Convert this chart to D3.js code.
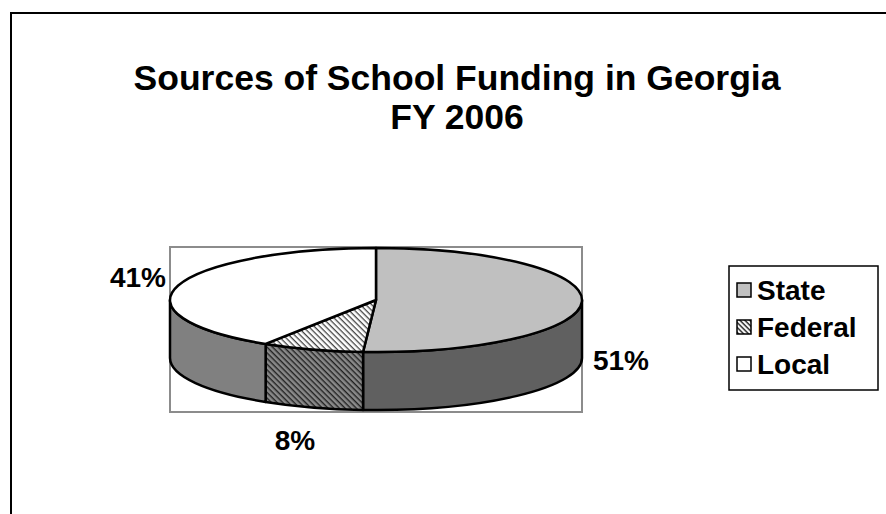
<!DOCTYPE html>
<html>
<head>
<meta charset="utf-8">
<script src="https://cdn.jsdelivr.net/npm/d3@7"></script>
<style>
  html, body { margin: 0; padding: 0; background: #fff; }
  svg { display: block; }
  text { font-family: Arial, "Liberation Sans", sans-serif; font-weight: bold; fill: #000; }
</style>
</head>
<body>
<svg id="chart" width="886" height="514"></svg>
<script>
// Funding sources, shares in percent
const categories = ["State", "Federal", "Local"];
const shares = [51, 8, 41];
const labels = ["51%", "8%", "41%"];
const titleLines = ["Sources of School Funding in Georgia", "FY 2006"];

const topFills = ["#c0c0c0", "url(#hatchTop)", "#ffffff"];
const sideFills = ["#606060", "url(#hatchSide)", "#808080"];
const legendFills = ["#c0c0c0", "url(#hatchLegend)", "#ffffff"];

const svg = d3.select("#chart");
const W = 886, H = 514;

// patterns for the Federal slice
const defs = svg.append("defs");
function hatch(id, bg, fg, gap, w) {
  const p = defs.append("pattern")
    .attr("id", id).attr("patternUnits", "userSpaceOnUse")
    .attr("width", gap).attr("height", gap)
    .attr("patternTransform", "rotate(45)");
  p.append("rect").attr("width", gap).attr("height", gap).attr("fill", bg);
  p.append("rect").attr("width", gap).attr("height", w).attr("fill", fg);
}
hatch("hatchTop", "#ffffff", "#444444", 4, 1.3);
hatch("hatchSide", "#8a8a8a", "#222222", 4, 1.4);
hatch("hatchLegend", "#ffffff", "#333333", 3.5, 1.5);

// chart frame (left and top edges)
svg.append("path")
  .attr("d", `M11,${H + 5} L11,13 L${W + 5},13`)
  .attr("fill", "none").attr("stroke", "#000").attr("stroke-width", 2);

// title
const title = svg.append("text").attr("text-anchor", "middle").style("font-size", "35.5px");
titleLines.forEach((t, i) => {
  title.append("tspan").attr("x", 457).attr("y", 90 + i * 39).text(t);
});

// plot area box
svg.append("rect")
  .attr("x", 170).attr("y", 247).attr("width", 412).attr("height", 165)
  .attr("fill", "none").attr("stroke", "#8c8c8c").attr("stroke-width", 2);

// 3D pie
const cx = 376, cy = 300, rx = 206, ry = 52, depth = 58;
const arcs = d3.pie().sort(null).startAngle(0).endAngle(2 * Math.PI)(shares);
const pt = (a, dy = 0) => [cx + rx * Math.sin(a), cy - ry * Math.cos(a) + dy];

function topPath(a0, a1) {
  const p0 = pt(a0), p1 = pt(a1);
  const large = (a1 - a0) > Math.PI ? 1 : 0;
  return `M${cx},${cy} L${p0[0]},${p0[1]} A${rx},${ry} 0 ${large} 1 ${p1[0]},${p1[1]} Z`;
}
function sidePath(a0, a1) {
  const s = Math.max(a0, Math.PI / 2), e = Math.min(a1, 3 * Math.PI / 2);
  if (e <= s) return null;
  const p0 = pt(s), p1 = pt(e), q1 = pt(e, depth), q0 = pt(s, depth);
  return `M${p0[0]},${p0[1]} A${rx},${ry} 0 0 1 ${p1[0]},${p1[1]} ` +
         `L${q1[0]},${q1[1]} A${rx},${ry} 0 0 0 ${q0[0]},${q0[1]} Z`;
}

const pie = svg.append("g");
arcs.forEach((d, i) => {
  const sp = sidePath(d.startAngle, d.endAngle);
  if (sp) pie.append("path").attr("d", sp)
    .attr("fill", sideFills[i]).attr("stroke", "#000").attr("stroke-width", 2.5)
    .attr("stroke-linejoin", "round");
});
arcs.forEach((d, i) => {
  pie.append("path").attr("d", topPath(d.startAngle, d.endAngle))
    .attr("fill", topFills[i]).attr("stroke", "#000").attr("stroke-width", 2.5)
    .attr("stroke-linejoin", "round");
});

// data labels
const labelPos = [[621, 370], [295, 450], [138, 287]];
labels.forEach((t, i) => {
  svg.append("text").attr("x", labelPos[i][0]).attr("y", labelPos[i][1])
    .attr("text-anchor", "middle").style("font-size", "28px").text(t);
});

// legend
const lg = svg.append("g");
lg.append("rect").attr("x", 729).attr("y", 266).attr("width", 149).attr("height", 124)
  .attr("fill", "#fff").attr("stroke", "#000").attr("stroke-width", 1.5);
categories.forEach((c, i) => {
  const y = 290 + i * 37;
  lg.append("rect").attr("x", 737).attr("y", y - 7).attr("width", 14).attr("height", 14)
    .attr("fill", legendFills[i]).attr("stroke", "#000").attr("stroke-width", 1.5);
  lg.append("text").attr("x", 757).attr("y", y + 10).style("font-size", "28px").text(c);
});
</script>
</body>
</html>
